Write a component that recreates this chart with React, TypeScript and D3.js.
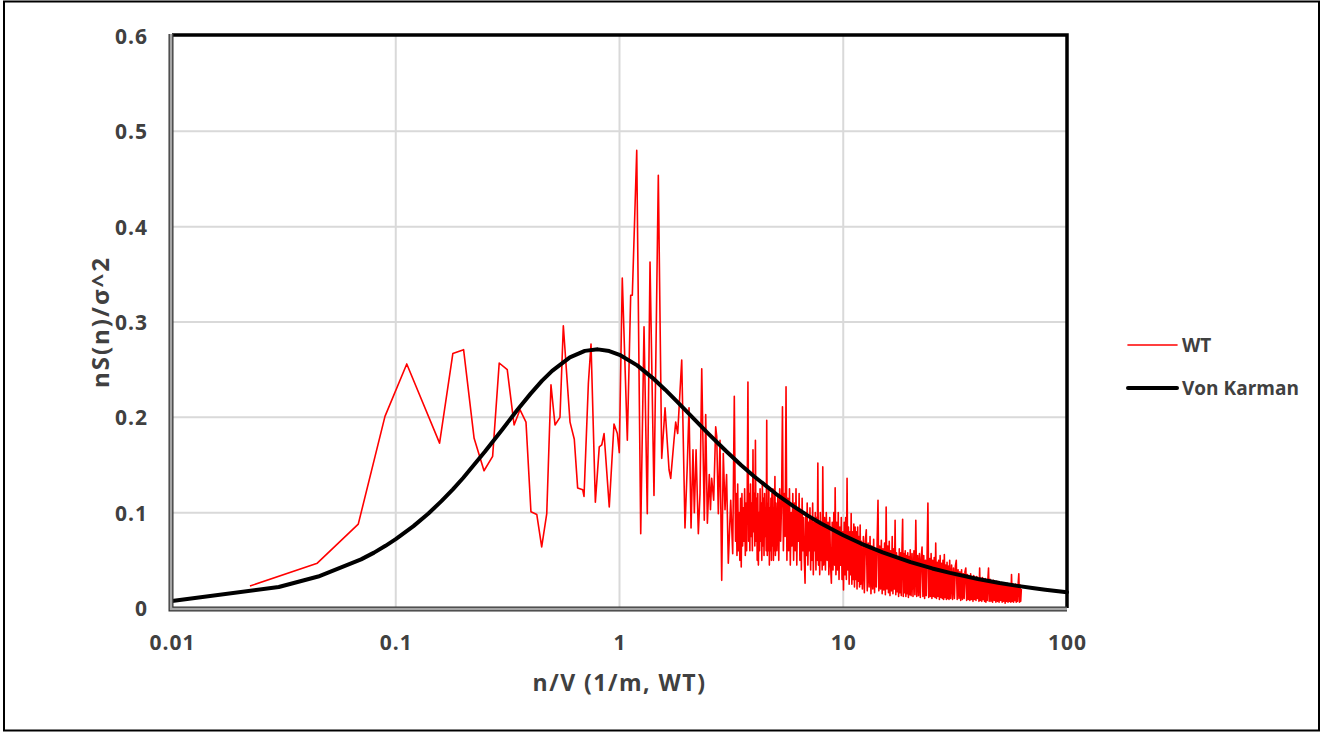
import { useEffect, useRef } from 'react'
import * as d3 from 'd3'

const width = 1323
const height = 733

// WT spectrum [n/V, nS/σ²]
const wtLow: [number, number][] = [
  [0.0223, 0.023], [0.0446, 0.047], [0.068, 0.088], [0.0895, 0.201], [0.112, 0.256],
  [0.157, 0.173], [0.18, 0.267], [0.201, 0.271], [0.224, 0.178], [0.248, 0.144],
  [0.271, 0.159], [0.29, 0.257], [0.315, 0.25], [0.338, 0.192], [0.359, 0.208],
  [0.382, 0.195], [0.402, 0.101], [0.427, 0.098], [0.449, 0.064], [0.473, 0.099],
  [0.494, 0.234], [0.515, 0.192], [0.542, 0.2], [0.561, 0.296], [0.601, 0.195],
  [0.628, 0.177], [0.65, 0.126], [0.685, 0.124], [0.694, 0.117], [0.726, 0.236],
  [0.746, 0.277], [0.78, 0.111], [0.812, 0.169], [0.833, 0.171], [0.853, 0.183],
  [0.9, 0.106], [0.945, 0.193], [0.978, 0.183], [0.998, 0.163],
]

const wtMid: [number, number][] = [
  [1.029, 0.346], [1.084, 0.176], [1.122, 0.328], [1.141, 0.328], [1.194, 0.48],
  [1.244, 0.078], [1.287, 0.295], [1.331, 0.099], [1.369, 0.363], [1.426, 0.118],
  [1.491, 0.454], [1.544, 0.157], [1.598, 0.21], [1.665, 0.145], [1.694, 0.136],
  [1.752, 0.176], [1.783, 0.195], [1.82, 0.183], [1.897, 0.26], [1.962, 0.084],
  [2.009, 0.15], [2.045, 0.21], [2.088, 0.084], [2.13, 0.166], [2.16, 0.1],
  [2.199, 0.166], [2.251, 0.078], [2.29, 0.12], [2.331, 0.251], [2.393, 0.092],
  [2.428, 0.203], [2.47, 0.089], [2.519, 0.14], [2.55, 0.103], [2.582, 0.136],
  [2.636, 0.113], [2.691, 0.19], [2.72, 0.18], [2.765, 0.099], [2.813, 0.176],
  [2.863, 0.029], [2.91, 0.162], [2.962, 0.103], [3.01, 0.14], [3.064, 0.047],
  [3.141, 0.113], [3.206, 0.057], [3.259, 0.222],
]

// dense part of the spectrum, 3.3 to 10
const wtHighA: [number, number][] = [
  [3.3, 0.07], [3.325, 0.12], [3.35, 0.055], [3.375, 0.13], [3.4, 0.06], [3.425, 0.1],
  [3.45, 0.05], [3.475, 0.115], [3.5, 0.043], [3.525, 0.12], [3.55, 0.065], [3.575, 0.105],
  [3.6, 0.07], [3.625, 0.125], [3.65, 0.055], [3.675, 0.11], [3.7, 0.06], [3.725, 0.13],
  [3.75, 0.237], [3.775, 0.07], [3.8, 0.12], [3.825, 0.06], [3.85, 0.13], [3.875, 0.075],
  [3.9, 0.11], [3.925, 0.06], [3.95, 0.166], [3.975, 0.08], [4.0, 0.12], [4.025, 0.065],
  [4.05, 0.176], [4.075, 0.07], [4.1, 0.115], [4.125, 0.05], [4.15, 0.12], [4.175, 0.045],
  [4.2, 0.1], [4.225, 0.06], [4.25, 0.125], [4.275, 0.07], [4.3, 0.11], [4.325, 0.05],
  [4.35, 0.13], [4.375, 0.065], [4.4, 0.115], [4.425, 0.055], [4.45, 0.12], [4.475, 0.075],
  [4.5, 0.105], [4.525, 0.06], [4.55, 0.197], [4.575, 0.055], [4.6, 0.11], [4.625, 0.06],
  [4.65, 0.125], [4.675, 0.045], [4.7, 0.105], [4.725, 0.06], [4.75, 0.115], [4.775, 0.05],
  [4.8, 0.12], [4.825, 0.065], [4.85, 0.125], [4.875, 0.05], [4.9, 0.105], [4.925, 0.06],
  [4.95, 0.138], [4.975, 0.055], [5.0, 0.11],
  [5.05, 0.06], [5.1, 0.118], [5.15, 0.05], [5.2, 0.125], [5.25, 0.07], [5.3, 0.11],
  [5.35, 0.211], [5.4, 0.06], [5.45, 0.12], [5.5, 0.075], [5.55, 0.232], [5.6, 0.05],
  [5.65, 0.115], [5.7, 0.06], [5.75, 0.125], [5.8, 0.045], [5.85, 0.1], [5.9, 0.065],
  [5.95, 0.12], [6.0, 0.05], [6.05, 0.11], [6.1, 0.06], [6.15, 0.125], [6.2, 0.045],
  [6.25, 0.105], [6.3, 0.07], [6.35, 0.12], [6.4, 0.05], [6.45, 0.1], [6.5, 0.04],
  [6.55, 0.115], [6.6, 0.06], [6.65, 0.095], [6.7, 0.05], [6.75, 0.026], [6.8, 0.1],
  [6.85, 0.055], [6.9, 0.11], [6.95, 0.045], [7.0, 0.09], [7.05, 0.06], [7.1, 0.105],
  [7.15, 0.04], [7.2, 0.095], [7.25, 0.05], [7.3, 0.11], [7.35, 0.035], [7.4, 0.09],
  [7.45, 0.06], [7.5, 0.1], [7.55, 0.04], [7.6, 0.095], [7.65, 0.05], [7.7, 0.152],
  [7.75, 0.045], [7.8, 0.09], [7.85, 0.035], [7.9, 0.1], [7.95, 0.05], [8.0, 0.085],
  [8.05, 0.04], [8.1, 0.148],
  [8.175, 0.045], [8.25, 0.095], [8.325, 0.04], [8.4, 0.1], [8.475, 0.05], [8.55, 0.09],
  [8.625, 0.035], [8.7, 0.095], [8.775, 0.045], [8.85, 0.026], [8.925, 0.09], [9.0, 0.04],
  [9.075, 0.1], [9.15, 0.045], [9.2, 0.126], [9.275, 0.035], [9.35, 0.09], [9.425, 0.04],
  [9.5, 0.1], [9.575, 0.03], [9.65, 0.085], [9.725, 0.045], [9.8, 0.095], [9.875, 0.03],
  [9.95, 0.08],
]

// dense part of the spectrum, 10 to 62
const wtHighB: [number, number][] = [
  [10.025, 0.019], [10.1, 0.09], [10.175, 0.035], [10.25, 0.095], [10.325, 0.03],
  [10.4, 0.136], [10.475, 0.04], [10.55, 0.085], [10.625, 0.025], [10.7, 0.08],
  [10.775, 0.035], [10.85, 0.099], [10.925, 0.025], [11.0, 0.08], [11.075, 0.03],
  [11.15, 0.088], [11.225, 0.022], [11.3, 0.085], [11.375, 0.03], [11.45, 0.08],
  [11.525, 0.02], [11.6, 0.085], [11.675, 0.028], [11.75, 0.075], [11.825, 0.022],
  [11.9, 0.087], [11.975, 0.025],
  [12.05, 0.07], [12.175, 0.02], [12.3, 0.075], [12.425, 0.016], [12.55, 0.07], [12.675, 0.082],
  [12.8, 0.018], [12.925, 0.068], [13.05, 0.022], [13.175, 0.075], [13.3, 0.015], [13.425, 0.065],
  [13.55, 0.02], [13.675, 0.072], [13.8, 0.016], [13.925, 0.06], [14.05, 0.022], [14.175, 0.07],
  [14.3, 0.113], [14.425, 0.018], [14.55, 0.065], [14.675, 0.02], [14.8, 0.071], [14.925, 0.015],
  [15.05, 0.062], [15.175, 0.019], [15.3, 0.068], [15.425, 0.014], [15.55, 0.106], [15.675, 0.02],
  [15.8, 0.065], [15.925, 0.016], [16.05, 0.07], [16.175, 0.013], [16.3, 0.06], [16.425, 0.018],
  [16.55, 0.075], [16.675, 0.015], [16.8, 0.062], [16.925, 0.02], [17.05, 0.092], [17.175, 0.014],
  [17.3, 0.058], [17.425, 0.017], [17.55, 0.054], [17.675, 0.012], [17.8, 0.062], [17.925, 0.016],
  [18.05, 0.058], [18.175, 0.013], [18.3, 0.06], [18.425, 0.093], [18.55, 0.012], [18.675, 0.057],
  [18.8, 0.016], [18.925, 0.06], [19.05, 0.012], [19.175, 0.055], [19.3, 0.015], [19.425, 0.058],
  [19.55, 0.011], [19.675, 0.054], [19.8, 0.014], [19.925, 0.061],
  [20.1, 0.013], [20.3, 0.057], [20.5, 0.012], [20.7, 0.06], [20.9, 0.014], [21.1, 0.092],
  [21.3, 0.012], [21.5, 0.055], [21.7, 0.013], [21.9, 0.057], [22.1, 0.011], [22.3, 0.052],
  [22.5, 0.064], [22.7, 0.012], [22.9, 0.055], [23.1, 0.01], [23.3, 0.05], [23.5, 0.013],
  [23.7, 0.055], [23.9, 0.11], [24.1, 0.011], [24.3, 0.052], [24.5, 0.012], [24.7, 0.057],
  [24.9, 0.01], [25.1, 0.05], [25.3, 0.012], [25.5, 0.053], [25.7, 0.011], [25.9, 0.068],
  [26.1, 0.01], [26.3, 0.048], [26.5, 0.012], [26.7, 0.05], [26.9, 0.009], [27.1, 0.055],
  [27.3, 0.011], [27.5, 0.047], [27.7, 0.01], [27.9, 0.05], [28.1, 0.009], [28.3, 0.056],
  [28.5, 0.011], [28.7, 0.045], [28.9, 0.009], [29.1, 0.048], [29.3, 0.01], [29.5, 0.044],
  [29.7, 0.009], [29.9, 0.05],
  [30.2, 0.01], [30.5, 0.045], [30.8, 0.009], [31.1, 0.042], [31.4, 0.01], [31.7, 0.044],
  [32.0, 0.05], [32.3, 0.009], [32.6, 0.04], [32.9, 0.01], [33.2, 0.038], [33.5, 0.008],
  [33.8, 0.04], [34.1, 0.009], [34.4, 0.036], [34.7, 0.01], [35.0, 0.038], [35.3, 0.042],
  [35.6, 0.008], [35.9, 0.035], [36.2, 0.009], [36.5, 0.033], [36.8, 0.008], [37.1, 0.036],
  [37.4, 0.009], [37.7, 0.032], [38.0, 0.007], [38.3, 0.034], [38.6, 0.009], [38.9, 0.03],
  [39.2, 0.008], [39.5, 0.033], [39.8, 0.01], [40.1, 0.031], [40.4, 0.007], [40.7, 0.042],
  [41.0, 0.008], [41.3, 0.03], [41.6, 0.007], [41.9, 0.032], [42.2, 0.009], [42.5, 0.029],
  [42.8, 0.007], [43.1, 0.031], [43.4, 0.006], [43.7, 0.028], [44.0, 0.008], [44.3, 0.03],
  [44.6, 0.042], [44.9, 0.007],
  [45.3, 0.03], [45.7, 0.007], [46.1, 0.028], [46.5, 0.006], [46.9, 0.029], [47.3, 0.008],
  [47.7, 0.026], [48.1, 0.006], [48.5, 0.028], [48.9, 0.007], [49.3, 0.025], [49.7, 0.006],
  [50.1, 0.027], [50.5, 0.008], [50.9, 0.026], [51.3, 0.006], [51.7, 0.024], [52.1, 0.007],
  [52.5, 0.026], [52.9, 0.005], [53.3, 0.025], [53.7, 0.007], [54.1, 0.026], [54.5, 0.006],
  [54.9, 0.024], [55.3, 0.007], [55.7, 0.025], [56.1, 0.006], [56.5, 0.035], [56.9, 0.007],
  [57.3, 0.025], [57.7, 0.006], [58.1, 0.024], [58.5, 0.008], [58.9, 0.025], [59.3, 0.006],
  [59.7, 0.023], [60.1, 0.007], [60.5, 0.026], [60.9, 0.036], [61.3, 0.006], [61.7, 0.024],
  [62.1, 0.007], [62.5, 0.02],
]

// Von Karman curve
const vkFreq = [
  0.01, 0.03, 0.045, 0.07, 0.08, 0.09, 0.1, 0.12, 0.14, 0.16, 0.18, 0.2, 0.25, 0.3, 0.35,
  0.4, 0.45, 0.5, 0.6, 0.7, 0.8, 0.9, 1, 1.2, 1.4, 1.6, 1.8, 2, 2.5, 3, 3.5, 4, 5, 6, 7,
  8, 10, 12, 15, 20, 25, 30, 40, 50, 60, 70, 80, 100,
]
const vkValue = [
  0.0074, 0.022, 0.033, 0.051, 0.0581, 0.0652, 0.0722, 0.0859, 0.0992, 0.1121, 0.1245,
  0.1364, 0.1638, 0.1876, 0.2079, 0.2246, 0.2382, 0.2488, 0.2629, 0.2697, 0.2713, 0.2695,
  0.2656, 0.2545, 0.2417, 0.229, 0.217, 0.206, 0.1827, 0.1644, 0.1498, 0.138, 0.1198,
  0.1066, 0.0964, 0.0883, 0.0763, 0.0676, 0.0583, 0.0482, 0.0415, 0.0368, 0.0304, 0.0262,
  0.0232, 0.0209, 0.0191, 0.0165,
]

const xTicks = [0.01, 0.1, 1, 10, 100]
const xTickLabels = ['0.01', '0.1', '1', '10', '100']
const yTicks = [0, 0.1, 0.2, 0.3, 0.4, 0.5, 0.6]
const yTickLabels = ['0', '0.1', '0.2', '0.3', '0.4', '0.5', '0.6']

const seriesNames = ['WT', 'Von Karman']

const FONT = "'Open Sans', 'DejaVu Sans', sans-serif"
const TEXT = '#404040'

const App = () => {
  const svgRef = useRef<SVGSVGElement>(null)

  useEffect(() => {
    const left = 172
    const right = 1067
    const top = 36
    const bottom = 608

    const x = d3.scaleLog().domain([0.01, 100]).range([left, right])
    const y = d3.scaleLinear().domain([0, 0.6]).range([bottom, top])

    const svg = d3.select(svgRef.current)
    svg.selectAll('*').remove()

    // outer frame
    svg
      .append('rect')
      .attr('x', 4)
      .attr('y', 1.5)
      .attr('width', 1315)
      .attr('height', 729)
      .attr('fill', '#fff')
      .attr('stroke', '#000')
      .attr('stroke-width', 2)

    // grid
    const grid = svg.append('g').attr('stroke', '#d9d9d9').attr('stroke-width', 2)
    grid
      .selectAll('line.h')
      .data(yTicks.slice(1, -1))
      .join('line')
      .attr('x1', left)
      .attr('x2', right)
      .attr('y1', (d) => y(d))
      .attr('y2', (d) => y(d))
    grid
      .selectAll('line.v')
      .data(xTicks.slice(1, -1))
      .join('line')
      .attr('class', 'v')
      .attr('x1', (d) => x(d))
      .attr('x2', (d) => x(d))
      .attr('y1', top)
      .attr('y2', bottom)

    // top / right border
    svg
      .append('path')
      .attr('d', `M${left},${top - 1}H${right}V${bottom}`)
      .attr('fill', 'none')
      .attr('stroke', '#000')
      .attr('stroke-width', 3.5)

    // series
    const line = d3
      .line<[number, number]>()
      .x((d) => x(d[0]))
      .y((d) => y(d[1]))

    const wt = [...wtLow, ...wtMid, ...wtHighA, ...wtHighB]
    svg
      .append('path')
      .datum(wt)
      .attr('d', line)
      .attr('fill', 'none')
      .attr('stroke', '#ff0000')
      .attr('stroke-width', 1.6)
      .attr('stroke-linejoin', 'round')

    const vk = vkFreq.map((f, i) => [f, vkValue[i]] as [number, number])
    svg
      .append('path')
      .datum(vk)
      .attr('d', line)
      .attr('fill', 'none')
      .attr('stroke', '#000')
      .attr('stroke-width', 4)
      .attr('stroke-linejoin', 'round')
      .attr('stroke-linecap', 'round')

    // left / bottom axis lines (grey with dark edge)
    const axisPath = `M${left - 1},${top - 2}V${bottom + 1}H${right}`
    svg
      .append('path')
      .attr('d', axisPath)
      .attr('fill', 'none')
      .attr('stroke', '#333')
      .attr('stroke-width', 5)
    svg
      .append('path')
      .attr('d', axisPath)
      .attr('fill', 'none')
      .attr('stroke', '#a6a6a6')
      .attr('stroke-width', 2.5)

    // tick labels
    const xAxis = d3
      .axisBottom(x)
      .tickValues(xTicks)
      .tickSize(0)
      .tickFormat((d, i) => xTickLabels[i])
    svg
      .append('g')
      .attr('transform', `translate(0,${bottom})`)
      .call(xAxis)
      .call((g) => g.select('.domain').remove())
      .call((g) =>
        g
          .selectAll('.tick text')
          .attr('dy', 0)
          .attr('y', 42)
          .attr('fill', TEXT)
          .style('font-family', FONT)
          .style('font-weight', '700')
          .style('font-size', '21px')
          .style('letter-spacing', '1px')
      )

    const yAxis = d3
      .axisLeft(y)
      .tickValues(yTicks)
      .tickSize(0)
      .tickFormat((d, i) => yTickLabels[i])
    svg
      .append('g')
      .attr('transform', `translate(${left},0)`)
      .call(yAxis)
      .call((g) => g.select('.domain').remove())
      .call((g) =>
        g
          .selectAll('.tick text')
          .attr('dy', 0)
          .attr('y', 7.5)
          .attr('x', -24)
          .attr('fill', TEXT)
          .style('font-family', FONT)
          .style('font-weight', '700')
          .style('font-size', '21px')
          .style('letter-spacing', '1px')
      )

    // axis titles
    svg
      .append('text')
      .attr('x', (left + right) / 2)
      .attr('y', 691)
      .attr('text-anchor', 'middle')
      .attr('fill', TEXT)
      .style('font-family', FONT)
      .style('font-weight', '700')
      .style('font-size', '23px')
      .style('letter-spacing', '1.5px')
      .text('n/V (1/m, WT)')
    svg
      .append('text')
      .attr('transform', `translate(109,${(top + bottom) / 2}) rotate(-90)`)
      .attr('text-anchor', 'middle')
      .attr('fill', TEXT)
      .style('font-family', FONT)
      .style('font-weight', '700')
      .style('font-size', '24px')
      .style('letter-spacing', '2px')
      .text('nS(n)/σ^2')

    // legend
    const legend = svg.append('g').attr('transform', 'translate(1128,345)')
    const items = legend
      .selectAll('g')
      .data(seriesNames)
      .join('g')
      .attr('transform', (d, i) => `translate(0,${i * 43})`)
    items
      .append('line')
      .attr('x1', 0)
      .attr('x2', 49)
      .attr('stroke', (d, i) => (i === 0 ? '#ff0000' : '#000'))
      .attr('stroke-width', (d, i) => (i === 0 ? 1.6 : 4))
      .attr('stroke-linecap', 'round')
    items
      .append('text')
      .attr('x', 54)
      .attr('y', 7)
      .attr('fill', TEXT)
      .style('font-family', FONT)
      .style('font-weight', '700')
      .style('font-size', '19px')
      .text((d) => d)
  }, [])

  return (
    <svg
      ref={svgRef}
      width={width}
      height={height}
      style={{ position: 'absolute', left: 0, top: 0 }}
    />
  )
}

export default App
